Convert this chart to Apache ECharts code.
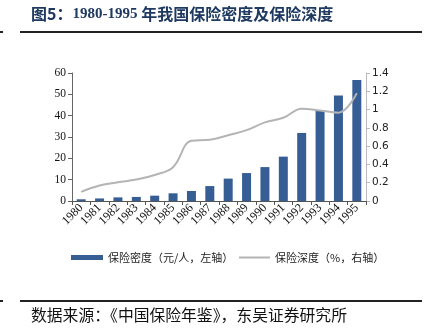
<!DOCTYPE html>
<html>
<head>
<meta charset="utf-8">
<script src="https://cdn.jsdelivr.net/npm/echarts@6/dist/echarts.min.js"></script>
<style>
  html, body { margin: 0; padding: 0; background: #fff; }
  #chart { width: 428px; height: 333px; }
</style>
</head>
<body>
<div id="chart"></div>
<script>
// Years on the category axis
const years = ['1980', '1981', '1982', '1983', '1984', '1985', '1986', '1987',
               '1988', '1989', '1990', '1991', '1992', '1993', '1994', '1995'];
// Insurance density, yuan per person (left axis)
const density = [0.8, 1.2, 1.7, 1.9, 2.5, 3.6, 4.7, 7.0,
                 10.5, 13.1, 15.9, 20.8, 31.9, 42.7, 49.4, 56.7];
// Insurance depth, % of GDP (right axis)
const depth = [0.10, 0.17, 0.205, 0.235, 0.285, 0.37, 0.66, 0.67,
               0.72, 0.775, 0.86, 0.91, 1.01, 0.99, 0.965, 1.18];
// Axis tick values
const leftTicks = [0, 10, 20, 30, 40, 50, 60];
const rightTicks = [0, 0.2, 0.4, 0.6, 0.8, 1, 1.2, 1.4];

const densityName = '保险密度（元/人，左轴）';
const depthName = '保险深度（%，右轴）';
const titlePrefix = '图5：';
const titleYears = '1980-1995 ';
const titleRest = '年我国保险密度及保险深度';
const sourceText = '数据来源：《中国保险年鉴》，东吴证券研究所';

const cjk = '"Noto Sans CJK SC", sans-serif';
const serif = '"Liberation Serif", "Times New Roman", serif';

const chart = echarts.init(document.getElementById('chart'), null, { renderer: 'canvas' });
chart.setOption({
  animation: false,
  backgroundColor: '#fff',
  grid: { left: 72, right: 62, top: 73, bottom: 132, containLabel: false },
  legend: [
    {
      data: [{ name: densityName, icon: 'rect' }],
      left: 66, top: 247,
      itemWidth: 32, itemHeight: 5, itemGap: 4,
      textStyle: { fontFamily: cjk, fontSize: 11, color: '#222' }
    },
    {
      data: [{ name: depthName, icon: 'rect' }],
      left: 234, top: 247,
      itemWidth: 31, itemHeight: 2, itemGap: 4,
      textStyle: { fontFamily: cjk, fontSize: 11, color: '#222' }
    }
  ],
  xAxis: {
    type: 'category',
    data: years,
    boundaryGap: true,
    axisLine: { lineStyle: { color: '#555', width: 1 } },
    axisTick: { show: true, alignWithLabel: false, length: 4, lineStyle: { color: '#555' } },
    axisLabel: {
      rotate: 45, interval: 0, margin: 5,
      fontFamily: serif, fontSize: 12, color: '#111'
    }
  },
  yAxis: [
    {
      type: 'value', min: 0, max: 60, interval: 10,
      splitLine: { show: false },
      axisLine: { show: true, lineStyle: { color: '#666' } },
      axisTick: { show: true, length: 4, lineStyle: { color: '#666' } },
      axisLabel: {
        margin: 6, fontFamily: serif, fontSize: 11.5, color: '#111',
        formatter: v => leftTicks.includes(v) ? String(v) : ''
      }
    },
    {
      type: 'value', min: 0, max: 1.4, interval: 0.2,
      splitLine: { show: false },
      axisLine: { show: true, lineStyle: { color: '#bbb' } },
      axisTick: { show: true, length: 4, lineStyle: { color: '#bbb' } },
      axisLabel: {
        margin: 6, fontFamily: '"DejaVu Sans", Verdana, sans-serif', fontSize: 10.5, color: '#222',
        formatter: v => {
          const t = rightTicks.find(r => Math.abs(r - v) < 1e-6);
          return t === undefined ? '' : String(t);
        }
      }
    }
  ],
  series: [
    {
      name: densityName,
      type: 'bar',
      yAxisIndex: 0,
      data: density,
      barWidth: 9,
      itemStyle: { color: '#365e95' }
    },
    {
      name: depthName,
      type: 'line',
      yAxisIndex: 1,
      data: depth,
      smooth: 0.4,
      symbol: 'none',
      lineStyle: { color: '#b4b4b4', width: 2 },
      itemStyle: { color: '#b4b4b4' }
    }
  ],
  graphic: [
    {
      type: 'text', left: 31, top: 6,
      style: {
        text: '{a|' + titlePrefix + '}{b|' + titleYears + '}{a|' + titleRest + '}',
        rich: {
          a: { font: 'bold 16px "Noto Sans CJK SC", sans-serif', fill: '#1f3a60' },
          b: { font: 'bold 15px "Liberation Serif", serif', fill: '#1f3a60' }
        }
      }
    },
    { type: 'rect', shape: { x: 20, y: 31, width: 402, height: 2 }, style: { fill: '#222' } },
    { type: 'rect', shape: { x: 0, y: 31, width: 3, height: 2 }, style: { fill: '#222' } },
    { type: 'rect', shape: { x: 20, y: 300, width: 402, height: 2 }, style: { fill: '#222' } },
    { type: 'rect', shape: { x: 0, y: 300, width: 3, height: 2 }, style: { fill: '#222' } },
    {
      type: 'text', left: 31, top: 307,
      style: { text: sourceText, fill: '#111', font: '15.8px "Noto Sans CJK SC", sans-serif' }
    }
  ]
});
</script>
</body>
</html>
